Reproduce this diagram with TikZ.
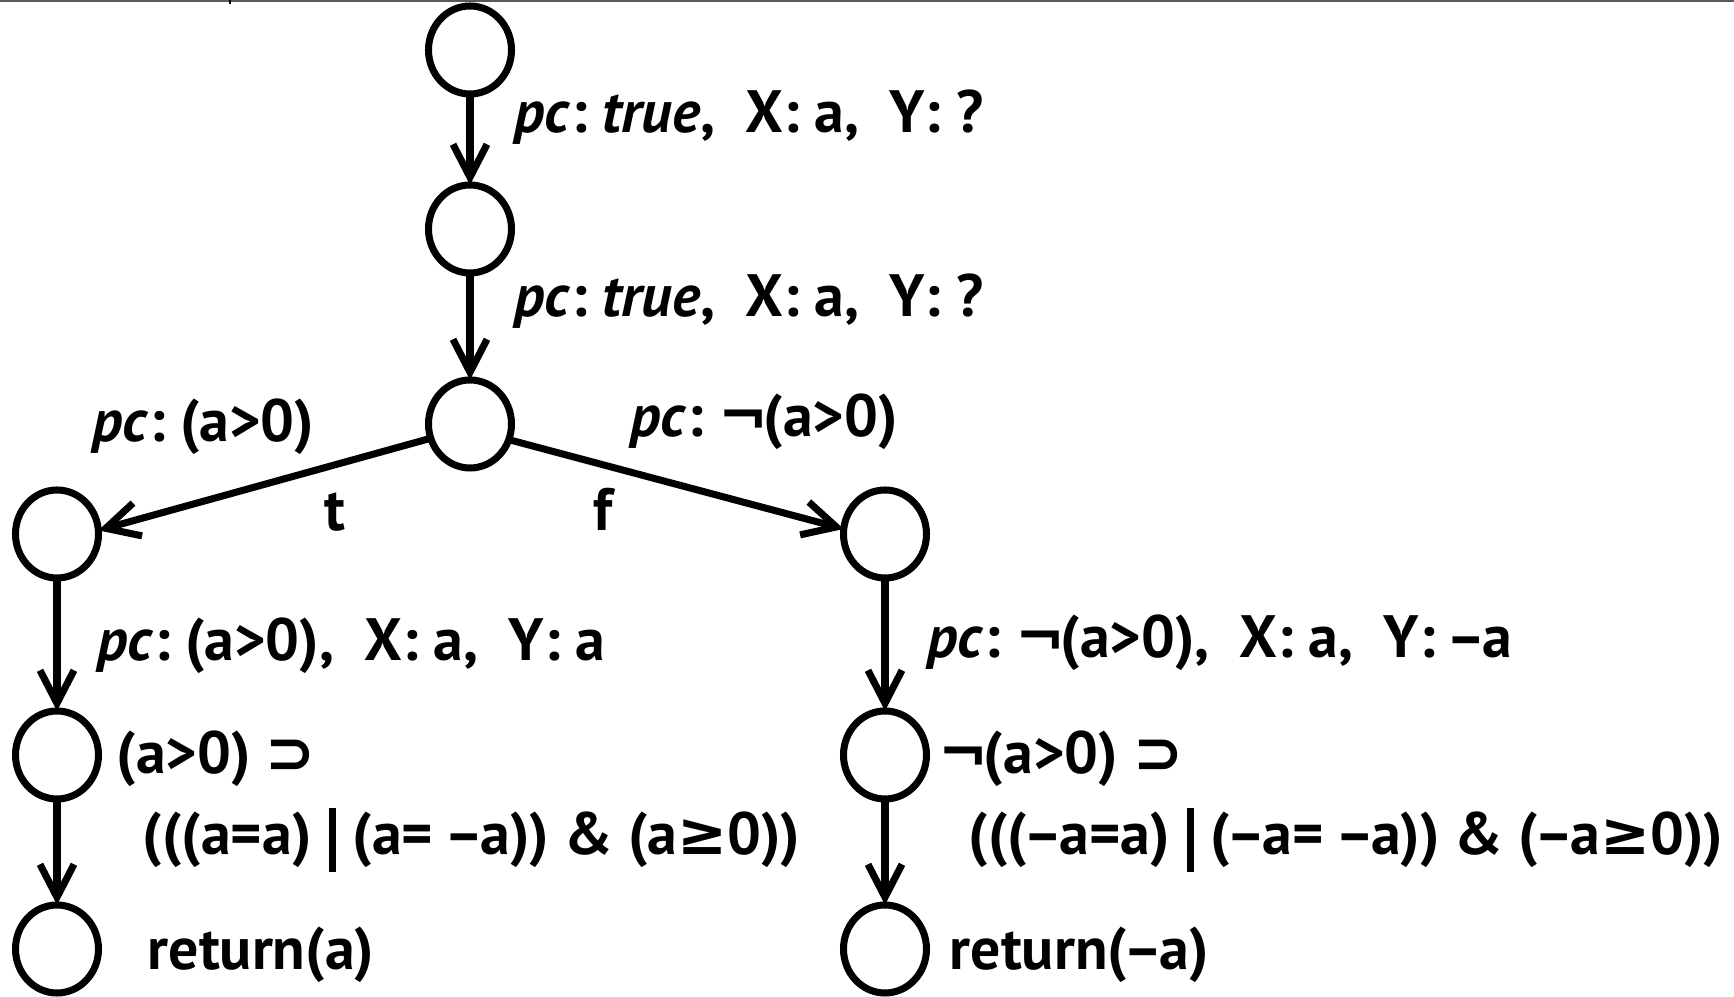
\documentclass[tikz,border=0pt]{standalone}
\usepackage{fontspec}
\setmainfont{PT Sans}
\newfontfamily\symfont{DejaVu Sans}
\usetikzlibrary{arrows.meta,positioning,shapes.geometric}

\newcommand{\pc}{\textit{pc}:}
\newcommand{\impl}{{\symfont\bfseries ⊃}}
\newcommand{\geqs}{{\symfont\bfseries ≥}}
\newcommand{\neglbl}{{\symfont\bfseries ¬}\kern-0.08em}
\newcommand{\mns}{\kern-0.06em–\kern-0.06em}
\newcommand{\orbar}{\hspace{0.03em}\rule[-0.28em]{0.12em}{1.06em}\hspace{0.03em}}

\begin{document}
\begin{tikzpicture}[
    node distance=0.9cm,
    state/.style={draw, ellipse, line width=2pt, outer sep=0pt, minimum width=0.83cm, minimum height=0.88cm, inner sep=0pt},
    lbl/.style={anchor=base west, inner sep=0pt, font=\fontsize{17}{20}\selectfont\bfseries},
    arrow/.style={-{Straight Barb[length=3.3mm, width=3.4mm]}, line width=2pt}
]

\useasboundingbox (0,0) rectangle (17.34,-9.97);

% window edge at the top
\draw[black!65, line width=0.6pt] (0,-0.01) -- (17.34,-0.01);
\draw[line width=0.6pt] (2.30,0) -- (2.30,-0.04);

% States
\node[state] (start) at (4.70,-0.50) {};
\node[state, below=0.91cm of start] (init) {};
\node[state, below=1.07cm of init] (branch) {};
\node[state, below=0.22cm of branch, xshift=-4.13cm] (thenIn) {};
\node[state, below=0.22cm of branch, xshift=4.15cm] (elseIn) {};
\node[state, below=1.33cm of thenIn] (thenChk) {};
\node[state, below=1.33cm of elseIn] (elseChk) {};
\node[state, below=1.06cm of thenChk] (thenRet) {};
\node[state, below=1.06cm of elseChk] (elseRet) {};

% Labels
\node[lbl] (lInit) at (5.14,-1.33) {\pc\ \textit{true},\ \ X:\ a,\ \ Y:\ ?};
\node[lbl] (lCond) at (5.14,-3.17) {\pc\ \textit{true},\ \ X:\ a,\ \ Y:\ ?};
\node[lbl] (lThen) at (0.92,-4.42) {\pc\ (a>0)};
\node[lbl] (lElse) at (6.30,-4.37) {\pc\ \neglbl(a>0)};
\node[lbl, anchor=base] (lT) at (3.35,-5.31) {t};
\node[lbl, anchor=base] (lF) at (6.03,-5.31) {f};
\node[lbl] (lThenSt) at (0.97,-6.61) {\pc\ (a>0),\ \ X:\ a,\ \ Y:\ a};
\node[lbl] (lElseSt) at (9.27,-6.58) {\pc\ \neglbl(a>0),\ \ X:\ a,\ \ Y:\ \mns a};
\node[lbl] (lThenA) at (1.16,-7.74) {(a>0) \impl};
\node[lbl] (lThenB) at (1.42,-8.55) {(((a=a) \orbar\ (a= \mns a)) \& (a\geqs0))};
\node[lbl] (lElseA) at (9.38,-7.74) {\neglbl(a>0) \impl};
\node[lbl] (lElseB) at (9.68,-8.55) {(((\mns a=a) \orbar\ (\mns a= \mns a)) \& (\mns a\geqs0))};
\node[lbl] (lThenR) at (1.47,-9.70) {return(a)};
\node[lbl] (lElseR) at (9.49,-9.70) {return(\mns a)};

% Arrows
\draw[arrow] (start) -- (init);
\draw[arrow] (init) -- (branch);
\draw[arrow] (branch.200) -- (thenIn.5);
\draw[arrow] (branch.-22) -- (elseIn.173);
\draw[arrow] (thenIn) -- (thenChk);
\draw[arrow] (elseIn) -- (elseChk);
\draw[arrow] (thenChk) -- (thenRet);
\draw[arrow] (elseChk) -- (elseRet);

\end{tikzpicture}
\end{document}
